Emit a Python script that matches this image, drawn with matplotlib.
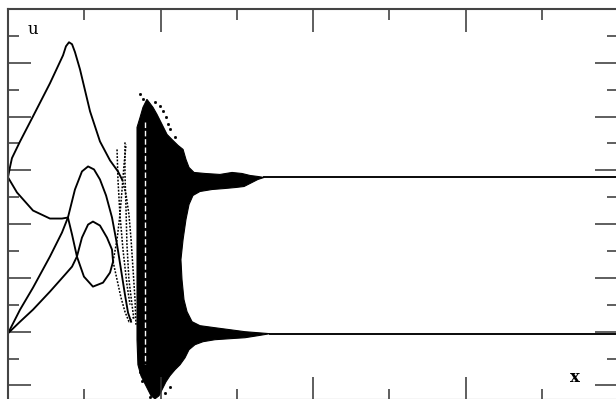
import numpy as np
import matplotlib.pyplot as plt

# branches of the solution u(x) before the chaotic band
peak_x = [0, 0.013, 0.026, 0.079, 0.164, 0.275, 0.361, 0.380, 0.400, 0.420, 0.439, 0.472, 0.538,
          0.603, 0.669, 0.721, 0.748]
peak_u = [2.87, 3.06, 3.228, 3.538, 4.004, 4.618, 5.140, 5.307, 5.382, 5.345, 5.200, 4.879, 4.097,
          3.538, 3.185, 2.980, 2.831]

low_x = [0, 0.059, 0.164, 0.275, 0.354, 0.393, 0.420, 0.452, 0.498, 0.557, 0.623, 0.669, 0.689]
low_u = [2.87, 2.588, 2.253, 2.104, 2.104, 2.123, 1.806, 1.397, 1.024, 0.838, 0.912, 1.099, 1.304]

bump_x = [0, 0.079, 0.164, 0.275, 0.354, 0.393, 0.439, 0.485, 0.525, 0.564, 0.603, 0.643,
          0.682, 0.715, 0.741, 0.767, 0.787, 0.807]
bump_u = [-0.03, 0.410, 0.819, 1.397, 1.844, 2.123, 2.644, 2.980, 3.073, 3.017, 2.831, 2.533,
          2.123, 1.620, 1.155, 0.689, 0.354, 0.186]

loop_x = [0, 0.079, 0.164, 0.275, 0.374, 0.420, 0.452, 0.485, 0.525, 0.557, 0.603, 0.649, 0.682, 0.689]
loop_u = [-0.03, 0.186, 0.410, 0.745, 1.061, 1.210, 1.397, 1.750, 1.992, 2.048, 1.974, 1.750, 1.527, 1.304]

# sparse (dotted) orbits near the onset of chaos
dots = [
    ([0.748, 0.774, 0.793, 0.807, 0.820, 0.833, 0.839], [2.831, 2.551, 2.179, 1.713, 1.155, 0.596, 0.130]),
    ([0.689, 0.715, 0.741, 0.767, 0.793, 0.820], [1.304, 0.968, 0.633, 0.372, 0.186, 0.261]),
    ([0.689, 0.715, 0.734, 0.748, 0.761, 0.774], [1.304, 1.713, 2.179, 2.644, 3.110, 3.482]),
    ([0.767, 0.767, 0.774, 0.780, 0.793, 0.813, 0.826], [3.520, 2.924, 2.272, 1.620, 0.968, 0.503, 0.223]),
    ([0.715, 0.721, 0.734, 0.754, 0.780, 0.800], [3.389, 2.831, 2.179, 1.527, 0.875, 0.503]),
]

# outline of the chaotic band
band_x = [0.846, 0.866, 0.885, 0.911, 0.931, 0.951, 0.977, 1.010, 1.043, 1.075, 1.115, 1.148, 1.167,
          1.187, 1.220, 1.292, 1.390, 1.469, 1.534, 1.587, 1.639, 1.679,
          1.639, 1.587, 1.548, 1.495, 1.423, 1.338, 1.259, 1.213, 1.187, 1.167, 1.148, 1.134, 1.141,
          1.154, 1.174, 1.207, 1.259, 1.357, 1.456, 1.554, 1.639, 1.718,
          1.639, 1.554, 1.456, 1.357, 1.279, 1.226, 1.187, 1.161, 1.128, 1.095, 1.062, 1.036, 1.010,
          0.990, 0.964, 0.938, 0.918, 0.898, 0.872, 0.852, 0.846]
band_u = [3.799, 3.985, 4.171, 4.320, 4.246, 4.171, 4.041, 3.855, 3.668, 3.575, 3.464, 3.389, 3.203,
          3.054, 2.961, 2.942, 2.924, 2.961, 2.942, 2.905, 2.886, 2.868,
          2.831, 2.756, 2.700, 2.682, 2.663, 2.644, 2.607, 2.533, 2.365, 2.086, 1.713, 1.341, 0.968,
          0.596, 0.372, 0.186, 0.112, 0.074, 0.037, 0.000, -0.019, -0.037,
          -0.074, -0.112, -0.130, -0.149, -0.186, -0.242, -0.335, -0.484, -0.615, -0.708, -0.819,
          -0.931, -1.080, -1.192, -1.248, -1.192, -1.080, -0.968, -0.819, -0.615, -0.149]

stray_x = [0.866, 0.885, 0.905, 0.964, 0.997, 1.016, 1.036, 1.049, 1.095, 1.062,
           0.866, 0.879, 0.931, 1.030, 1.062]
stray_u = [4.413, 4.320, 4.097, 4.264, 4.190, 4.097, 3.985, 3.855, 3.613, 3.762,
           -0.745, -0.912, -1.210, -1.136, -1.024]

# the two attracting states for large x
u_hi = 2.87
u_lo = -0.05
x_hi0 = 1.679
x_lo0 = 1.718

fig = plt.figure(figsize=(6.16, 3.99), dpi=100)
ax = fig.add_axes([8 / 616, -0.0025, 610 / 616, 0.9799])

k = 'black'
for xs, us in [(peak_x, peak_u), (low_x, low_u), (bump_x, bump_u), (loop_x, loop_u)]:
    ax.plot(xs, us, color=k, lw=1.35)
for xs, us in dots:
    ax.plot(xs, us, color=k, lw=1.1, ls=(0, (1.2, 1.0)))

ax.fill(band_x, band_u, color=k, lw=0.8, ec=k)
ax.plot([0.898, 0.898], [3.9, -0.6], color='white', lw=1.0, ls=(0, (4, 2)))
ax.plot(stray_x, stray_u, ls='none', marker='s', ms=1.0, color=k)

ax.plot([x_hi0, 4.0], [u_hi, u_hi], color=k, lw=1.35)
ax.plot([x_lo0, 4.0], [u_lo, u_lo], color=k, lw=1.35)

ax.set_xlim(0, 4)
ax.set_ylim(-1.27, 6)
ax.set_xticks(np.arange(0, 4.01, 1))
ax.set_xticks(np.arange(0.5, 4, 1), minor=True)
ax.set_yticks(np.arange(-1, 6.01, 1))
ax.set_yticks(np.arange(-0.5, 6, 1), minor=True)
ax.tick_params(which='both', direction='in', top=True, right=True,
               labelbottom=False, labelleft=False, color='#333333', width=1.1)
ax.tick_params(which='major', length=16.5)
ax.tick_params(which='minor', length=8)
for s in ax.spines.values():
    s.set_color('#444444')
    s.set_linewidth(1.5)

ax.text(0.164, 5.62, 'u', family='DejaVu Serif', fontsize=12, ha='center', va='center')
ax.text(3.718, -0.857, 'x', family='DejaVu Serif', fontsize=12, fontweight='bold', ha='center', va='center')

fig.savefig('out.png', dpi=100)
